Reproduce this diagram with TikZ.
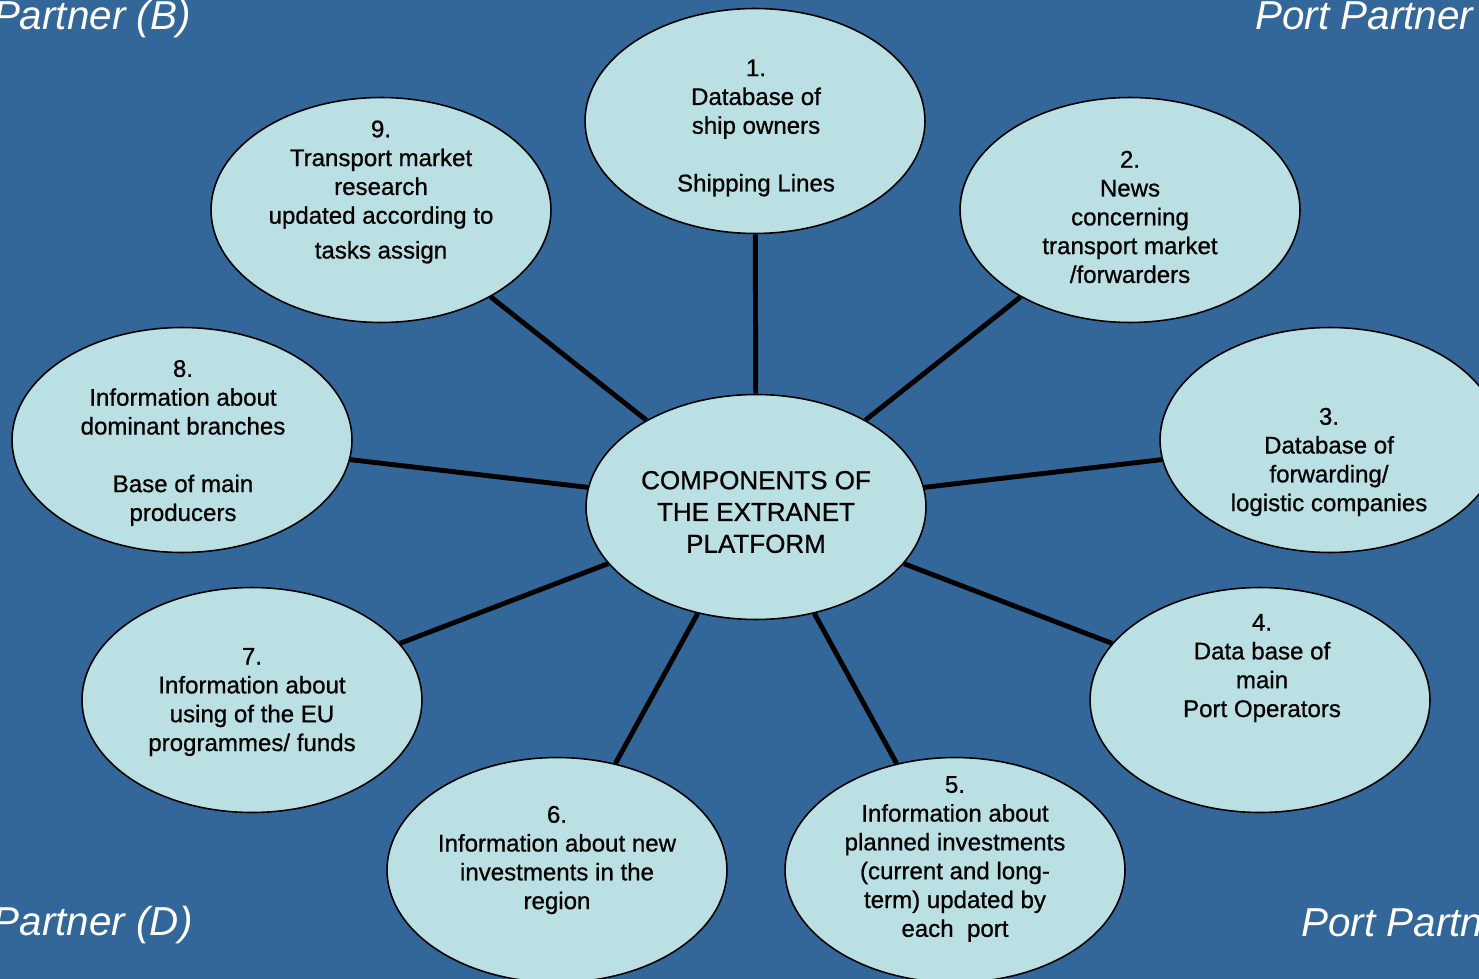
\documentclass[tikz,border=0pt]{standalone}
\usepackage{fontspec}
\setmainfont{Liberation Sans}
\newfontfamily\bubblefont{Liberation Sans}[FakeBold=0.8]
\usetikzlibrary{shapes.geometric}
\definecolor{slide}{RGB}{51,102,153}
\definecolor{bubble}{RGB}{187,224,228}

\begin{document}
\begin{tikzpicture}[x=0.02cm,y=-0.02cm,
    every node/.style={inner sep=0pt},
    comp/.style={ellipse,draw=black,line width=0.9pt,fill=bubble,minimum width=6.8cm,minimum height=4.5cm},
    txt/.style={align=center,font=\bubblefont\fontsize{13.7}{16.4}\selectfont},
    corner/.style={text=white,font=\fontsize{23}{27}\selectfont\itshape},
    link/.style={line width=2.8pt}]
  \useasboundingbox (0,0) rectangle (1479,979);
  \fill[slide] (0,0) rectangle (1479,979);
  \clip (0,0) rectangle (1479,979);

  % partner labels in the corners
  \node[corner,anchor=base east] (PartnerB) at (191,30)   {Partner (B)};
  \node[corner,anchor=base west] (PortTop)  at (1255,30)  {Port Partner};
  \node[corner,anchor=base east] (PartnerD) at (193,935)  {Partner (D)};
  \node[corner,anchor=base west] (PortBot)  at (1301,936) {Port Partner};

  % bubbles
  \node[comp] (Platform)     at (756,507)  {};
  \node[comp] (Ships)        at (755,121)  {};
  \node[comp] (News)         at (1130,210) {};
  \node[comp] (Forwarders)   at (1330,440) {};
  \node[comp] (Operators)    at (1260,700) {};
  \node[comp] (PortInvest)   at (955,870)  {};
  \node[comp] (RegionInvest) at (557,870)  {};
  \node[comp] (EUFunds)      at (252,700)  {};
  \node[comp] (Branches)     at (182,440)  {};
  \node[comp] (Research)     at (381,210)  {};

  % texts
  \node[txt,font=\bubblefont\fontsize{14.8}{18.1}\selectfont] (tPlatform) at (756,512) {COMPONENTS OF\\THE EXTRANET\\PLATFORM};
  \node[txt] (tShips)        at (756,128)  {1.\\Database of\\ship owners\\~\\Shipping Lines};
  \node[txt] (tNews)         at (1130,217) {2.\\News\\concerning\\transport market\\/forwarders};
  \node[txt] (tForwarders)   at (1329,462) {3.\\Database of\\forwarding/\\logistic companies};
  \node[txt] (tOperators)    at (1262,668) {4.\\Data base of\\main\\Port Operators};
  \node[txt] (tPortInvest)   at (955,859)  {5.\\Information about\\planned investments\\(current and long-\\term) updated by\\each\ \ port};
  \node[txt] (tRegionInvest) at (557,860)  {6.\\Information about new\\investments in the\\region};
  \node[txt] (tEUFunds)      at (252,702)  {7.\\Information about\\using of the EU\\programmes/ funds};
  \node[txt] (tBranches)     at (183,443)  {8.\\Information about\\dominant branches\\~\\Base of main\\producers};
  \node[txt] (tResearch)     at (381,192)  {9.\\Transport market\\research\\updated according to\\[3.4pt]tasks assign};

  \path[link] (Platform) edge (Ships)
              (Platform) edge (News)
              (Platform) edge (Forwarders)
              (Platform) edge (Operators)
              (Platform) edge (PortInvest)
              (Platform) edge (RegionInvest)
              (Platform) edge (EUFunds)
              (Platform) edge (Branches)
              (Platform) edge (Research);
\end{tikzpicture}
\end{document}
